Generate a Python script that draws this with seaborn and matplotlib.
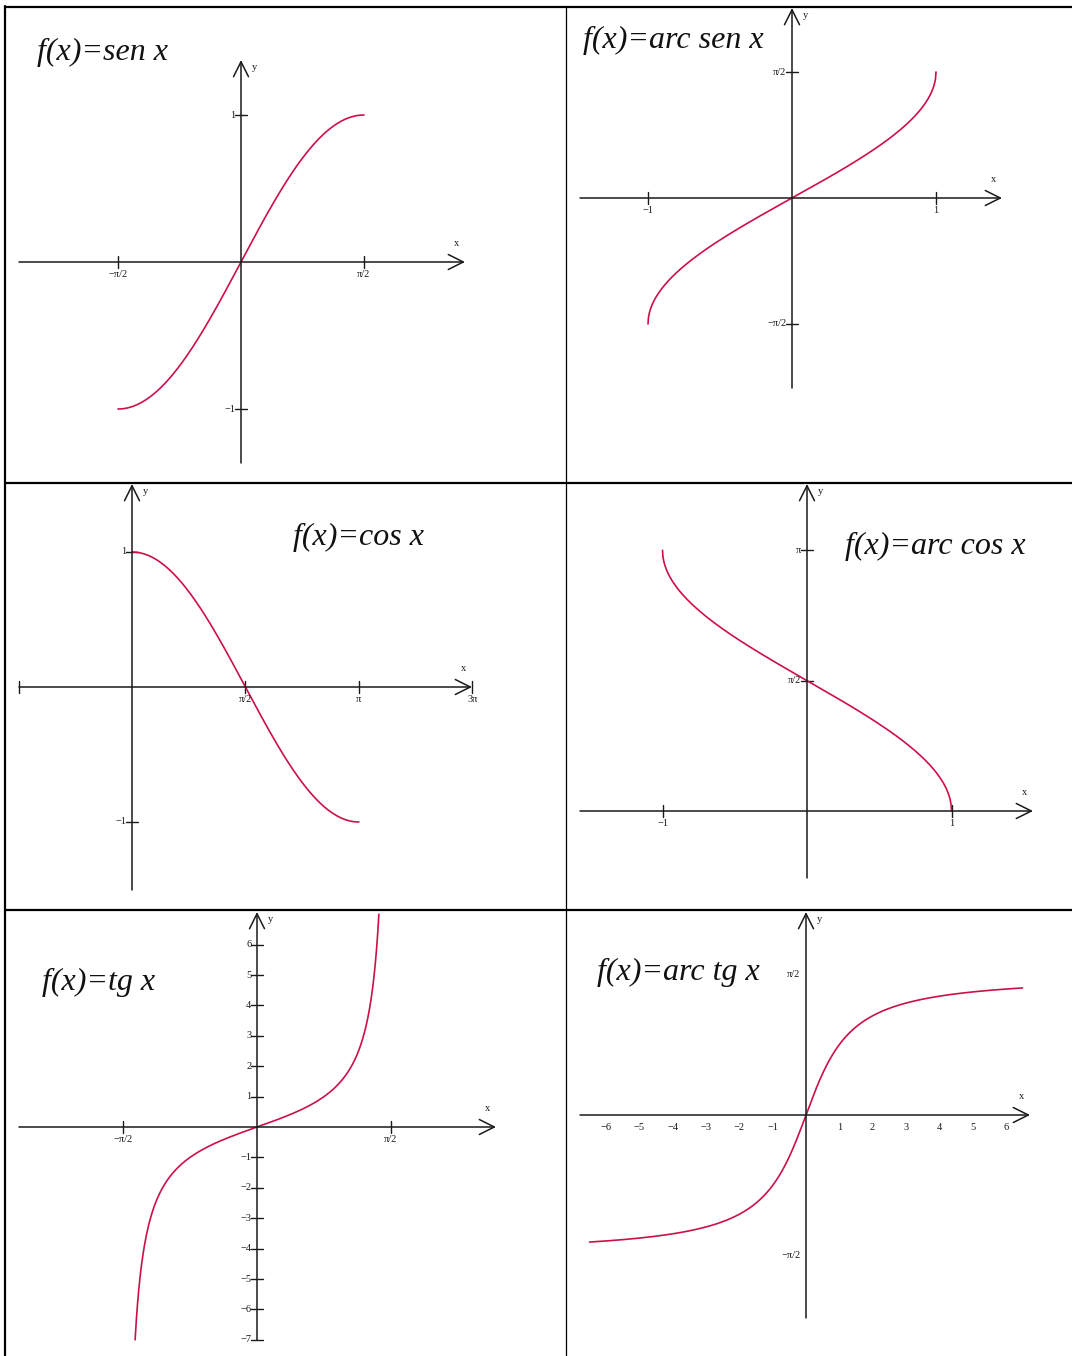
import numpy as np
import pandas as pd
import matplotlib
matplotlib.use("Agg")
import matplotlib.pyplot as plt
import seaborn as sns
from matplotlib.lines import Line2D

sns.set_theme(style="white")
plt.rcParams["font.family"] = ["Liberation Serif", "DejaVu Serif"]

W, H = 1072, 1356
CURVE = "#cc1048"
AXC = "#1a1a1a"
PI = np.pi

# ---- data ----------------------------------------------------------------
titles = ["f(x)=sen x", "f(x)=arc sen x", "f(x)=cos x",
          "f(x)=arc cos x", "f(x)=tg x", "f(x)=arc tg x"]

sin_domain = [-PI / 2, PI / 2]
arcsin_domain = [-1.0, 1.0]
cos_domain = [0.0, PI]
arccos_domain = [-1.0, 1.0]
tan_domain = [-1.4289, 1.4289]
arctan_domain = [-6.5, 6.5]

sin_xticks = [-PI / 2, PI / 2]
sin_xlabels = ["\u2212\u03c0/2", "\u03c0/2"]
sin_yticks = [1, -1]
sin_ylabels = ["1", "\u22121"]

arcsin_xticks = [-1, 1]
arcsin_xlabels = ["\u22121", "1"]
arcsin_yticks = [PI / 2, -PI / 2]
arcsin_ylabels = ["\u03c0/2", "\u2212\u03c0/2"]

cos_xticks = [PI / 2, PI, 3 * PI / 2]
cos_xlabels = ["\u03c0/2", "\u03c0", "3\u03c0"]
cos_yticks = [1, -1]
cos_ylabels = ["1", "\u22121"]

arccos_xticks = [-1, 1]
arccos_xlabels = ["\u22121", "1"]
arccos_yticks = [PI, PI / 2]
arccos_ylabels = ["\u03c0", "\u03c0/2"]

tan_xticks = [-PI / 2, PI / 2]
tan_xlabels = ["\u2212\u03c0/2", "\u03c0/2"]
tan_yticks = [6, 5, 4, 3, 2, 1, -1, -2, -3, -4, -5, -6, -7]
tan_ylabels = ["6", "5", "4", "3", "2", "1", "\u22121", "\u22122", "\u22123",
               "\u22124", "\u22125", "\u22126", "\u22127"]

arctan_xticks = [-6, -5, -4, -3, -2, -1, 1, 2, 3, 4, 5, 6]
arctan_xlabels = ["\u22126", "\u22125", "\u22124", "\u22123", "\u22122", "\u22121",
                  "1", "2", "3", "4", "5", "6"]
arctan_yticks = [PI / 2, -PI / 2]
arctan_ylabels = ["\u03c0/2", "\u2212\u03c0/2"]

funcs = [np.sin, np.arcsin, np.cos, np.arccos, np.tan, np.arctan]
domains = [sin_domain, arcsin_domain, cos_domain, arccos_domain, tan_domain, arctan_domain]

# ---- layout (pixels, y downward) ----------------------------------------
cells = [(5, 7, 566, 483), (566, 7, 1072, 483),
         (5, 483, 566, 910), (566, 483, 1072, 910),
         (5, 910, 566, 1356), (566, 910, 1072, 1356)]

panels = [
    dict(origin=(241, 262), scale=(78.3, 147.0), xaxis=(19, 465), yaxis=(463, 60),
         xticks=sin_xticks, xlabels=sin_xlabels, yticks=sin_yticks, ylabels=sin_ylabels,
         title_pos=(37, 52), show_ticks=True, left_bar=False),
    dict(origin=(792, 198), scale=(144.0, 80.2), xaxis=(580, 1002), yaxis=(388, 8),
         xticks=arcsin_xticks, xlabels=arcsin_xlabels, yticks=arcsin_yticks,
         ylabels=arcsin_ylabels, title_pos=(583, 40), show_ticks=True, left_bar=False),
    dict(origin=(132, 687), scale=(72.2, 135.0), xaxis=(19, 472), yaxis=(890, 484),
         xticks=cos_xticks, xlabels=cos_xlabels, yticks=cos_yticks, ylabels=cos_ylabels,
         title_pos=(293, 537), show_ticks=True, left_bar=True),
    dict(origin=(807, 811), scale=(144.5, 83.0), xaxis=(580, 1033), yaxis=(878, 484),
         xticks=arccos_xticks, xlabels=arccos_xlabels, yticks=arccos_yticks,
         ylabels=arccos_ylabels, title_pos=(845, 546), show_ticks=True, left_bar=False),
    dict(origin=(257, 1127), scale=(85.3, 30.4), xaxis=(19, 496), yaxis=(1340, 912),
         xticks=tan_xticks, xlabels=tan_xlabels, yticks=tan_yticks, ylabels=tan_ylabels,
         title_pos=(42, 982), show_ticks=True, left_bar=False),
    dict(origin=(806, 1115), scale=(33.3, 89.6), xaxis=(580, 1030), yaxis=(1318, 912),
         xticks=arctan_xticks, xlabels=arctan_xlabels, yticks=arctan_yticks,
         ylabels=arctan_ylabels, title_pos=(597, 972), show_ticks=False, left_bar=False),
]

fig = plt.figure(figsize=(W / 100, H / 100), dpi=100)
fig.patch.set_facecolor("white")

TICK_PX = 6
LBL = 7.5


def px_x(p, ox, sx):
    return (p - ox) / sx


def px_y(p, oy, sy):
    return (oy - p) / sy


for cell, pan, title, f, dom in zip(cells, panels, titles, funcs, domains):
    x0, y0, x1, y1 = cell
    ox, oy = pan["origin"]
    sx, sy = pan["scale"]
    ax = fig.add_axes([x0 / W, 1 - y1 / H, (x1 - x0) / W, (y1 - y0) / H])
    ax.set_xlim(px_x(x0, ox, sx), px_x(x1, ox, sx))
    ax.set_ylim(px_y(y1, oy, sy), px_y(y0, oy, sy))
    ax.axis("off")

    # axes lines with open arrowheads
    xa0, xa1 = pan["xaxis"]
    ya0, ya1 = pan["yaxis"]
    ax.annotate("", xy=(px_x(xa1, ox, sx), 0), xytext=(px_x(xa0, ox, sx), 0),
                arrowprops=dict(arrowstyle="->,head_length=0.9,head_width=0.45",
                                lw=1.1, color=AXC, shrinkA=0, shrinkB=0),
                annotation_clip=False)
    ax.annotate("", xy=(0, px_y(ya1, oy, sy)), xytext=(0, px_y(ya0, oy, sy)),
                arrowprops=dict(arrowstyle="->,head_length=0.9,head_width=0.45",
                                lw=1.1, color=AXC, shrinkA=0, shrinkB=0),
                annotation_clip=False)
    if pan["left_bar"]:
        xl = px_x(xa0, ox, sx)
        ax.plot([xl, xl], [-TICK_PX / sy, TICK_PX / sy], color=AXC, lw=1.0, clip_on=False)

    # axis names
    ax.annotate("x", xy=(px_x(xa1, ox, sx), 0), xytext=(-6, 10), textcoords="offset points",
                fontsize=LBL, ha="center", va="bottom", color=AXC)
    ax.annotate("y", xy=(0, px_y(ya1, oy, sy)), xytext=(8, -2), textcoords="offset points",
                fontsize=LBL, ha="left", va="top", color=AXC, annotation_clip=False)

    # ticks and labels
    for v, lab in zip(pan["xticks"], pan["xlabels"]):
        if pan["show_ticks"]:
            ax.plot([v, v], [-TICK_PX / sy, TICK_PX / sy], color=AXC, lw=1.0)
        ax.annotate(lab, xy=(v, 0), xytext=(0, -6), textcoords="offset points",
                    fontsize=LBL, ha="center", va="top", color=AXC)
    for v, lab in zip(pan["yticks"], pan["ylabels"]):
        if pan["show_ticks"]:
            ax.plot([-TICK_PX / sx, TICK_PX / sx], [v, v], color=AXC, lw=1.0)
        ax.annotate(lab, xy=(0, v), xytext=(-4, 0), textcoords="offset points",
                    fontsize=LBL, ha="right", va="center", color=AXC)

    # function curve
    xs = np.linspace(dom[0], dom[1], 600)
    df = pd.DataFrame({"x": xs, "y": f(xs)})
    sns.lineplot(data=df, x="x", y="y", ax=ax, color=CURVE, lw=1.2, sort=False,
                 estimator=None, clip_on=False)
    ax.axis("off")

    tx, ty = pan["title_pos"]
    fig.text(tx / W, 1 - ty / H, title, fontsize=23, style="italic",
             ha="left", va="center", color="#111111")

# table rules
def hline(y, xa, xb, lw):
    fig.add_artist(Line2D([xa / W, xb / W], [1 - y / H, 1 - y / H], color="black",
                          lw=lw, transform=fig.transFigure))


def vline(x, ya, yb, lw):
    fig.add_artist(Line2D([x / W, x / W], [1 - ya / H, 1 - yb / H], color="black",
                          lw=lw, transform=fig.transFigure))


hline(7, 5, W, 1.6)
hline(483, 5, W, 1.6)
hline(910, 5, W, 1.6)
vline(5, 6, H, 1.6)
vline(566, 6, H, 0.9)

fig.savefig("out.png", dpi=100, facecolor="white")
